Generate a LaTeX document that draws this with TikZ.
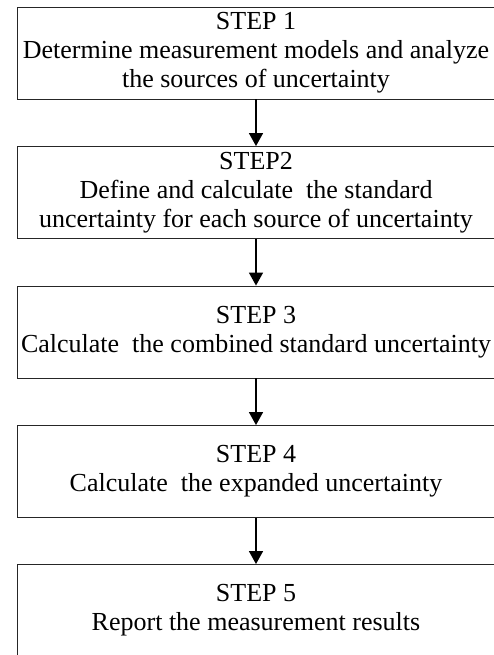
\documentclass[tikz,border=0pt]{standalone}
\usepackage{fontspec}
\setmainfont{Liberation Serif}
\usetikzlibrary{arrows.meta,positioning}

\begin{document}
\begin{tikzpicture}[x=1pt,y=-1pt,
		stepbox/.style={draw=black!85,line width=0.9pt,minimum width=478pt,minimum height=92pt,
			inner sep=0pt,align=center,font=\fontsize{26}{29}\selectfont},
		flow/.style={line width=1.6pt,-{Triangle[width=14pt,length=13pt]}}]
		% picture is cut at the page edge, like the original
		\clip (0,0) rectangle (494,655);
		\pgfmathsetmacro{\midX}{256}
		
		\node[stepbox] (s1) at (\midX,53) {STEP 1\\Determine measurement models and analyze\\the sources of uncertainty};
		\node[stepbox] (s2) at (\midX,192.5) {STEP2\\Define and calculate~ the standard\\uncertainty for each source of uncertainty};
		\node[stepbox] (s3) at (\midX,332) {STEP 3\\Calculate~ the combined standard uncertainty};
		\node[stepbox] (s4) at (\midX,471.5) {STEP 4\\Calculate~ the expanded uncertainty};
		\node[stepbox] (s5) at (\midX,610.5) {STEP 5\\Report the measurement results};
		
		\foreach \a/\b in {s1/s2,s2/s3,s3/s4,s4/s5}
		\draw[flow] (\a) -- (\b);
	\end{tikzpicture}
\end{document}
